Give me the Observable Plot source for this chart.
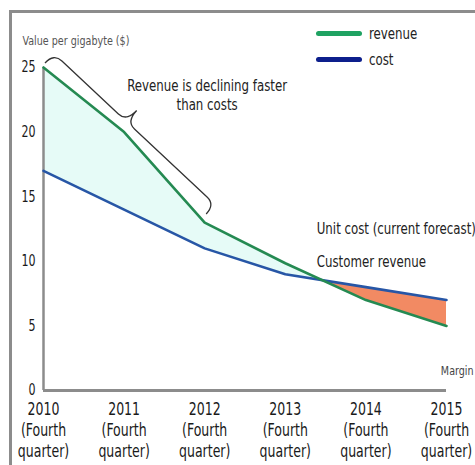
<!DOCTYPE html>
<html>
<head>
<meta charset="utf-8">
<script src="https://cdn.jsdelivr.net/npm/d3@7"></script>
<script src="https://cdn.jsdelivr.net/npm/@observablehq/plot@0.6"></script>
<style>
  html, body { margin: 0; padding: 0; background: #fff; overflow: hidden; }
  #wrap { position: relative; width: 475px; height: 465px; overflow: hidden;
          font-family: "DejaVu Sans Condensed", "Liberation Sans Narrow", Roboto, sans-serif; }
  #frame { position: absolute; left: 9px; top: 10px; width: 520px; height: 520px;
           border-left: 3px solid #8c8c8c; border-top: 3px solid #8c8c8c; }
  #chart { position: absolute; left: 0; top: 0; }
  #legend { position: absolute; left: 316px; top: 20px; font-size: 16px; color: #222; }
  .row { display: flex; align-items: center; height: 26px; }
  .sw { display: inline-block; width: 46px; height: 5px; border-radius: 3px; margin-right: 7px; }
  .lab { display: inline-block; transform: scaleX(0.82); transform-origin: left center; }
</style>
</head>
<body>
<div id="wrap">
  <div id="frame"></div>
  <div id="chart"></div>
  <div id="legend"></div>
</div>
<script>
// Unit economics per gigabyte, fourth quarter of each year
const years = [2010, 2011, 2012, 2013, 2014, 2015];
const revenue = [25, 20, 13, 9.85, 7, 5];
const cost = [17, 14, 11, 9, 8, 7];
const yTicks = [0, 5, 10, 15, 20, 25];
const tickSuffix = "(Fourth\nquarter)";

const seriesNames = ["revenue", "cost"];
const lineColors = {revenue: "#258a52", cost: "#2756a6"};
const legendColors = {revenue: "#1fa262", cost: "#0d1f8c"};

const notes = [
  {year: 2012.03, value: 22.9, text: "Revenue is declining faster\nthan costs", anchor: "middle", size: 16, color: "#222"},
  {year: 2013.39, value: 12.6, text: "Unit cost (current forecast)", anchor: "start", size: 16, color: "#222"},
  {year: 2013.39, value: 10.05, text: "Customer revenue", anchor: "start", size: 16, color: "#222"},
  {year: 2014.93, value: 1.55, text: "Margin", anchor: "start", size: 13, color: "#444"}
];

const data = years.map((year, i) => ({year, revenue: revenue[i], cost: cost[i]}));
const FONT = '"DejaVu Sans Condensed", "Liberation Sans Narrow", Roboto, sans-serif';

const plot = Plot.plot({
  width: 475,
  height: 465,
  marginLeft: 43,
  marginRight: 29,
  marginTop: 67,
  marginBottom: 75,
  x: {domain: [2010, 2015]},
  y: {domain: [0, 25]},
  style: {fontFamily: FONT, background: "transparent", color: "#1a1a1a", overflow: "visible"},
  marks: [
    // gap between the two curves: green-tinted where revenue leads, orange where cost leads
    Plot.areaY(data, {x: "year", y1: "cost", y2: "revenue", fill: "#e6fbf7"}),
    Plot.areaY(data, {x: "year", y1: "cost", y2: "revenue", fill: "#f28a63"}),
    Plot.ruleY([0], {stroke: "#8c8c8c", strokeWidth: 3}),
    Plot.ruleX([2010], {stroke: "#8c8c8c", strokeWidth: 2.5}),
    Plot.line(data, {x: "year", y: "cost", stroke: lineColors.cost, strokeWidth: 2.6}),
    Plot.line(data, {x: "year", y: "revenue", stroke: lineColors.revenue, strokeWidth: 2.6}),
    Plot.axisY({ticks: yTicks, tickSize: 0, tickPadding: 8, fontSize: 15, label: null}),
    Plot.axisX({
      ticks: years, tickSize: 0, tickPadding: 9, fontSize: 17, lineHeight: 1.25, label: null,
      tickFormat: d => `${d}\n${tickSuffix}`
    }),
    Plot.text(["Value per gigabyte ($)"], {
      frameAnchor: "top-left", dx: -21, dy: -32, textAnchor: "start",
      fontSize: 13, fill: "#555"
    }),
    ...notes.map(n => Plot.text([n], {
      x: "year", y: "value", text: "text", textAnchor: n.anchor,
      fontSize: n.size, fill: n.color, lineHeight: 1.15
    }))
  ]
});

document.getElementById("chart").appendChild(plot);

// Split the gap fill at the crossover using clip regions above / below the cost line
const xs = plot.scale("x"), ys = plot.scale("y");
const svg = d3.select(plot);
const defs = svg.insert("defs", ":first-child");
const H = 465;
defs.append("clipPath").attr("id", "above-cost").append("path")
  .attr("d", d3.area().x(d => xs.apply(d.year)).y0(0).y1(d => ys.apply(d.cost))(data));
defs.append("clipPath").attr("id", "below-cost").append("path")
  .attr("d", d3.area().x(d => xs.apply(d.year)).y0(H).y1(d => ys.apply(d.cost))(data));
const areas = plot.querySelectorAll('g[aria-label="area"]');
areas[0].setAttribute("clip-path", "url(#above-cost)");
areas[1].setAttribute("clip-path", "url(#below-cost)");

// Curly brace along the steep revenue decline, 2010 to 2012
function bracePath(ax, ay, bx, by, h, tipT, tipH, q) {
  const dx = bx - ax, dy = by - ay, L = Math.hypot(dx, dy);
  const ux = dx / L, uy = dy / L, nx = uy, ny = -ux;
  const P = (t, s) => `${ax + ux * t + nx * s},${ay + uy * t + ny * s}`;
  const m = tipT * L;
  return `M${P(0, 0)} Q${P(0, h)} ${P(q, h)} L${P(m - q, h)} Q${P(m, h)} ${P(m, tipH)} ` +
         `Q${P(m, h)} ${P(m + q, h)} L${P(L - q, h)} Q${P(L, h)} ${P(L, 0)}`;
}
const i0 = years.indexOf(2010), i1 = years.indexOf(2012);
svg.append("path")
  .attr("d", bracePath(xs.apply(years[i0]) + 2, ys.apply(revenue[i0]) - 4,
                       xs.apply(years[i1]) + 2, ys.apply(revenue[i1]) - 8, 13, 0.45, 28, 11))
  .attr("fill", "none").attr("stroke", "#333").attr("stroke-width", 1.3);

// Narrow the lettering horizontally around each text's anchor point
function condense(root, s) {
  for (const t of Array.from(root.querySelectorAll("text"))) {
    const r = t.getBoundingClientRect();
    const anchor = getComputedStyle(t).textAnchor;
    const sx = anchor === "middle" ? (r.left + r.right) / 2 : anchor === "end" ? r.right : r.left;
    const inv = t.parentNode.getScreenCTM().inverse();
    const p = new DOMPoint(sx, r.top).matrixTransform(inv);
    const g = document.createElementNS("http://www.w3.org/2000/svg", "g");
    g.setAttribute("transform", `translate(${p.x},0) scale(${s},1) translate(${-p.x},0)`);
    t.parentNode.insertBefore(g, t);
    g.appendChild(t);
  }
}
condense(plot, 0.82);

// Legend
const legend = d3.select("#legend");
for (const name of seriesNames) {
  const row = legend.append("div").attr("class", "row");
  row.append("span").attr("class", "sw").style("background", legendColors[name]);
  row.append("span").attr("class", "lab").text(name);
}
</script>
</body>
</html>
